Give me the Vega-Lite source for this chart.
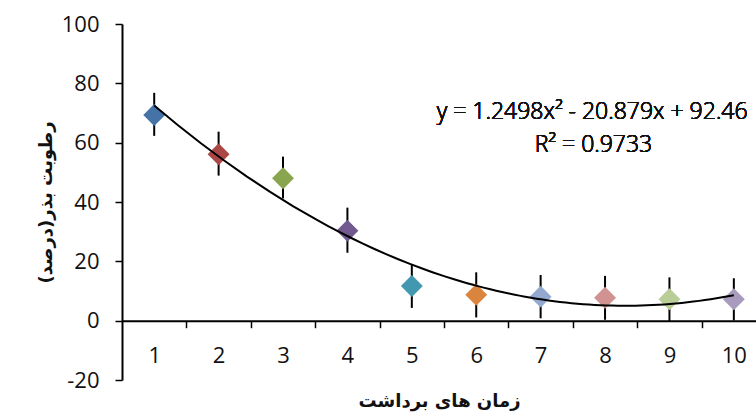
{
  "$schema": "https://vega.github.io/schema/vega-lite/v6.json",
  "width": 634,
  "height": 356,
  "autosize": "none",
  "padding": {"left": 122, "top": 24, "right": 0, "bottom": 39},
  "background": "white",
  "config": {
    "view": {"stroke": null},
    "font": "Open Sans",
    "axis": {"grid": false, "domainColor": "black", "tickColor": "black", "labelColor": "#111", "titleColor": "#111", "labelFont": "Open Sans", "labelFontWeight": "normal", "titleFont": "DejaVu Sans"}
  },
  "data": {
    "values": [
      {"t": 1, "m": 69.3, "lo": 62.3, "hi": 76.8},
      {"t": 2, "m": 56.1, "lo": 48.9, "hi": 63.7},
      {"t": 3, "m": 48.0, "lo": 41.2, "hi": 55.3},
      {"t": 4, "m": 30.3, "lo": 22.9, "hi": 38.1},
      {"t": 5, "m": 11.7, "lo": 4.3, "hi": 19.1},
      {"t": 6, "m": 8.7, "lo": 1.1, "hi": 16.3},
      {"t": 7, "m": 8.1, "lo": 0.8, "hi": 15.4},
      {"t": 8, "m": 7.7, "lo": 0.3, "hi": 15.1},
      {"t": 9, "m": 7.2, "lo": -0.2, "hi": 14.6},
      {"t": 10, "m": 7.2, "lo": 0.1, "hi": 14.3}
    ]
  },
  "resolve": {"axis": {"x": "independent"}},
  "layer": [
    {
      "mark": {"type": "rule", "color": "black", "strokeWidth": 2},
      "encoding": {
        "x": {"field": "t", "type": "quantitative", "scale": {"domain": [0.5, 10.344], "nice": false, "zero": false},
          "axis": {"orient": "bottom", "values": [1.5, 2.5, 3.5, 4.5, 5.5, 6.5, 7.5, 8.5, 9.5], "offset": -59.3, "labels": false, "title": null, "domainWidth": 2, "tickWidth": 1.5, "tickSize": 7}},
        "y": {"field": "lo", "type": "quantitative", "scale": {"domain": [-20, 100], "nice": false},
          "axis": {"values": [-20, 0, 20, 40, 60, 80, 100], "labelExpr": "'' + datum.value", "domainWidth": 2, "tickWidth": 1.5, "tickSize": 7, "labelFontSize": 22, "labelPadding": 16,
            "title": "رطوبت بذر(درصد)", "titleFontSize": 18, "titleFontWeight": "bold", "titlePadding": 6}},
        "y2": {"field": "hi"}
      }
    },
    {
      "mark": {"type": "point", "shape": "diamond", "filled": true, "opacity": 1, "size": 480},
      "encoding": {
        "x": {"field": "t", "type": "quantitative",
          "axis": {"orient": "bottom", "values": [1, 2, 3, 4, 5, 6, 7, 8, 9, 10], "offset": -59.3, "domain": false, "ticks": false, "labelFontSize": 22, "labelPadding": 25,
            "title": "زمان های برداشت", "titleFontSize": 18, "titleFontWeight": "bold", "titlePadding": 26}},
        "y": {"field": "m", "type": "quantitative"},
        "color": {"field": "t", "type": "nominal", "legend": null,
          "scale": {"range": ["#4572A7", "#AA4643", "#89A54E", "#71588F", "#4198AF", "#DB843D", "#93A9CF", "#D19392", "#B9CD96", "#A99BBD"]}}
      }
    },
    {
      "transform": [{"regression": "m", "on": "t", "method": "poly", "order": 2, "extent": [1, 10]}],
      "mark": {"type": "line", "color": "black", "strokeWidth": 2},
      "encoding": {
        "x": {"field": "t", "type": "quantitative", "axis": null},
        "y": {"field": "m", "type": "quantitative"}
      }
    },
    {
      "mark": {"type": "text", "font": "Open Sans", "fontWeight": 300, "fontSize": 23, "color": "#111", "align": "center", "baseline": "middle"},
      "encoding": {
        "x": {"datum": 7.8, "type": "quantitative", "axis": null},
        "y": {"datum": 70.3, "type": "quantitative"},
        "text": {"value": "y = 1.2498x² - 20.879x + 92.46"}
      }
    },
    {
      "mark": {"type": "text", "font": "Open Sans", "fontWeight": 300, "fontSize": 23, "color": "#111", "align": "center", "baseline": "middle"},
      "encoding": {
        "x": {"datum": 7.82, "type": "quantitative", "axis": null},
        "y": {"datum": 59.2, "type": "quantitative"},
        "text": {"value": "R² = 0.9733"}
      }
    }
  ]
}
